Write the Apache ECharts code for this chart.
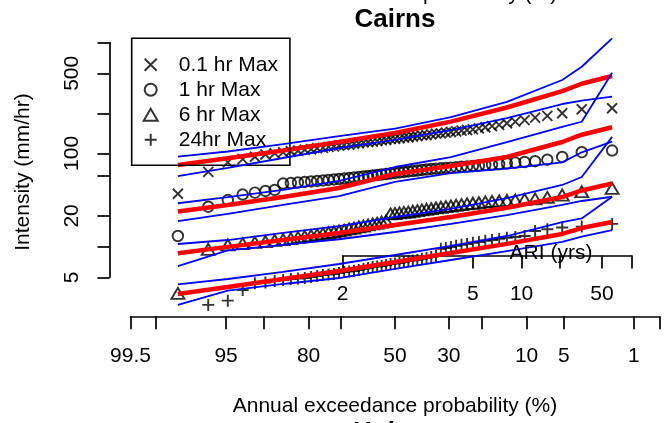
<!DOCTYPE html>
<html><head><meta charset="utf-8">
<script src="https://cdn.jsdelivr.net/npm/echarts@6/dist/echarts.min.js"></script>
<style>html,body{margin:0;padding:0;background:#fff}#c{width:667px;height:423px}</style>
</head><body><div id="c"></div>
<script>
// ---- data (intensities in mm/hr, sorted ascending; plotting position i/(n+1)) ----
const seriesNames = ['0.1 hr Max', '1 hr Max', '6 hr Max', '24hr Max'];
const max01 = [33,54,67,72,76,80,82,84,86,87,89,90,92,93,95,96,98,99,100,102,103,105,106,107,108,110,111,113,114,115,117,118,120,121,123,124,126,128,129,131,133,135,137,139,141,144,148,152,156,162,168,174,184,191,203,222,227];
const max1 = [12.7,24.6,28.6,32.4,33.8,35.1,35.9,41.5,42,42.5,43,43.5,44,44.5,45,45.5,46,46.5,47,47.6,48.1,48.7,49.2,49.8,50.3,50.9,51.5,52.1,52.7,53.3,53.9,54.5,55.1,55.7,56.4,57,57.7,58,58.6,59,59.5,60,60.6,61.2,61.7,62.4,63.1,63.8,64.5,65.6,66.5,67.5,68.7,71.1,75.6,84.2,87.5];
const max6 = [3.48,9.41,10.37,10.7,11,11.2,11.5,11.7,12,12.3,12.6,12.8,13.1,13.4,13.7,13.9,14.2,14.5,14.9,15.2,15.6,15.9,16.3,16.7,17,17.4,17.8,20.9,21.1,21.4,21.6,21.8,22.2,22.5,22.9,23.2,23.5,23.9,24.3,24.6,25,25.4,25.8,26.2,26.6,26.9,27.4,27.7,28,28.3,28.6,29,29.3,30.4,32,34.5,37.3];
const max24 = [null,2.68,2.95,3.75,4.36,4.44,4.6,4.7,4.81,4.86,4.92,5.03,5.15,5.27,5.33,5.39,5.51,5.64,5.7,5.77,5.9,6.04,6.17,6.31,6.38,6.45,6.6,6.75,6.83,6.9,7.07,7.23,7.31,7.39,7.56,7.73,7.9,8.08,9.5,9.7,9.9,10.2,10.4,10.6,10.9,11.1,11.4,11.6,11.9,12.2,12.4,12.7,14.2,14.8,15.4,15.7,16.7];

// fitted curve (red) and confidence limits (blue), at these plotting-position ranks
const lineIdx = [1,3,8,17,29,41,50,55,56,57];
const fit01 = [63.1,73.4,87.5,106,130,168,231,335,395,470];
const up01  = [76.1,85.6,101,121,143.5,186,262,430,580,1101];
const lo01  = [49.2,59,73.9,92.6,111,139,182,250,270,295];
const fit1  = [22.1,25.6,30.6,37.5,51.5,61.7,75.6,106,125,147.8];
const up1   = [26.6,30.6,35.9,44,60.3,75.5,106,149,167.5,507];
const lo1   = [17.8,20.9,25.6,31.3,43,52.6,58,67,84,106.8];
const fit6  = [8.6,9.94,11.6,13.6,16.3,19.5,24,30.6,35.5,41.6];
const up6   = [10.6,11.6,13.6,15.9,19.5,23.4,29.9,40.2,48.1,119];
const lo6   = [6.45,9.2,10.4,11.8,13.9,16.7,20.4,25.6,28,30.8];
const fit24 = [3.43,4.02,4.81,5.77,7.07,8.65,10.64,13.3,15.2,17.4];
const up24  = [4.27,4.81,5.64,6.75,8.27,10.17,12.7,17.4,18.9,30.8];
const lo24  = [2.68,3.7,4.3,4.92,6.04,7.39,9.05,11.1,12.5,14.5];

// axis ticks
const aepTicks  = [99.5,99,95,90,80,70,50,30,20,10,5,1,0.5];
const aepLabels = ['99.5','','95','','80','','50','30','','10','5','1',''];
const yTickValues = [5,10,20,50,82,200,500,1000];
const yTickLabels = ['5','','20','','100','','500',''];
const ariTicks  = [2,5,10,20,50,100];
const ariLabels = ['2','5','10','','50',''];
const ariPos    = [0,0.450,0.619,0.751,0.897,1];

// ---- helpers ----
function qnorm(p){
  const a=[-3.969683028665376e+01,2.209460984245205e+02,-2.759285104469687e+02,1.383577518672690e+02,-3.066479806614716e+01,2.506628277459239e+00];
  const b=[-5.447609879822406e+01,1.615858368580409e+02,-1.556989798598866e+02,6.680131188771972e+01,-1.328068155288572e+01];
  const c=[-7.784894002430293e-03,-3.223964580411365e-01,-2.400758277161838e+00,-2.549732539343734e+00,4.374664141464968e+00,2.938163982698783e+00];
  const d=[7.784695709041462e-03,3.224671290700398e-01,2.445134137142996e+00,3.754408661907416e+00];
  const pl=0.02425, ph=1-pl; let q,r;
  if(p<pl){q=Math.sqrt(-2*Math.log(p));return (((((c[0]*q+c[1])*q+c[2])*q+c[3])*q+c[4])*q+c[5])/((((d[0]*q+d[1])*q+d[2])*q+d[3])*q+1);}
  if(p<=ph){q=p-0.5;r=q*q;return (((((a[0]*r+a[1])*r+a[2])*r+a[3])*r+a[4])*r+a[5])*q/(((((b[0]*r+b[1])*r+b[2])*r+b[3])*r+b[4])*r+1);}
  q=Math.sqrt(-2*Math.log(1-p));return -(((((c[0]*q+c[1])*q+c[2])*q+c[3])*q+c[4])*q+c[5])/((((d[0]*q+d[1])*q+d[2])*q+d[3])*q+1);
}
const N = max01.length;
const zPos = i => qnorm(i/(N+1));
const L10 = v => Math.log10(v);
function pts(arr){ const out=[]; arr.forEach((v,k)=>{ if(v!=null) out.push([zPos(k+1), L10(v)]); }); return out; }
function ln(arr){ return arr.map((v,k)=>[zPos(lineIdx[k]), L10(v)]); }

const FONT = '"Liberation Sans", Arial, Helvetica, sans-serif';
const FS = 21;
const zMin = qnorm(0.005), zMax = qnorm(0.995);
const aepZ = aepTicks.map(a => qnorm(1 - a/100));
const yTickL = yTickValues.map(L10);

const symX = 'path://M0,0L10,10M10,0L0,10';
const symPlus = 'path://M5,0L5,10M0,5L10,5';
const ptStyle = {color:'rgba(0,0,0,0)', borderColor:'#000', borderWidth:1.9};

function scatter(name, arr, symbol, size){
  return {type:'scatter', name, data: pts(arr), symbol, symbolSize:size, itemStyle:ptStyle, clip:false, z:2, silent:true};
}
function line(arr, color, width, z){
  return {type:'line', data: ln(arr), showSymbol:false, symbol:'none', lineStyle:{color, width}, clip:false, z, silent:true, legendHoverLink:false};
}
const nearest = (arr, labels) => v => { let k=0, best=1e9; arr.forEach((t,j)=>{const d=Math.abs(t-v); if(d<best){best=d;k=j;}}); return labels[k]; };

const chart = echarts.init(document.getElementById('c'), null, {renderer:'canvas'});
chart.setOption({
  animation:false,
  backgroundColor:'#fff',
  textStyle:{fontFamily:FONT},
  grid:[
    {left:130.5, width:529, top:42.6, height:234.7},
    {left:342.7, width:289, top:200, height:55.5}
  ],
  xAxis:[
    {type:'value', gridIndex:0, min:zMin, max:zMax, position:'bottom', offset:39,
     axisLine:{show:true, onZero:false, lineStyle:{color:'#000', width:1.7}},
     axisTick:{show:true, length:13, lineStyle:{color:'#000', width:1.7}, customValues:aepZ},
     axisLabel:{show:true, customValues:aepZ, margin:29, fontSize:FS, color:'#000', fontFamily:FONT, formatter:nearest(aepZ, aepLabels)},
     splitLine:{show:false}},
    {type:'value', gridIndex:1, min:0, max:1, position:'bottom',
     axisLine:{show:true, onZero:false, lineStyle:{color:'#000', width:1.7}},
     axisTick:{show:true, length:13, lineStyle:{color:'#000', width:1.7}, customValues:ariPos},
     axisLabel:{show:true, customValues:ariPos, margin:28, fontSize:FS, color:'#000', fontFamily:FONT, formatter:nearest(ariPos, ariLabels)},
     splitLine:{show:false}}
  ],
  yAxis:[
    {type:'value', gridIndex:0, min:L10(5), max:L10(1000), position:'left', offset:21,
     axisLine:{show:true, onZero:false, lineStyle:{color:'#000', width:1.7}},
     axisTick:{show:true, length:12, lineStyle:{color:'#000', width:1.7}, customValues:yTickL},
     axisLabel:{show:true, customValues:yTickL, rotate:90, margin:27, fontSize:FS, color:'#000', fontFamily:FONT, formatter:nearest(yTickL, yTickLabels)},
     splitLine:{show:false}},
    {type:'value', gridIndex:1, show:false, min:0, max:1, axisLine:{onZero:false}}
  ],
  legend:{
    orient:'vertical', left:131.7, top:38.3,
    padding:[14,12,13,11], itemGap:0, itemWidth:14, itemHeight:12,
    borderColor:'#000', borderWidth:1.6,
    textStyle:{fontSize:FS, color:'#000', fontFamily:FONT, lineHeight:25, padding:[0,0,0,16]},
    selectedMode:false,
    data: seriesNames
  },
  series:[
    scatter(seriesNames[0], max01, symX, 10),
    scatter(seriesNames[1], max1, 'circle', 10.5),
    scatter(seriesNames[2], max6, 'triangle', [13,11]),
    scatter(seriesNames[3], max24, symPlus, 12),
    line(fit01,'#ff0000',4.5,3), line(fit1,'#ff0000',4.5,3), line(fit6,'#ff0000',4.5,3), line(fit24,'#ff0000',4.5,3),
    line(up01,'#0000ff',1.8,4), line(lo01,'#0000ff',1.8,4),
    line(up1,'#0000ff',1.8,4), line(lo1,'#0000ff',1.8,4),
    line(up6,'#0000ff',1.8,4), line(lo6,'#0000ff',1.8,4),
    line(up24,'#0000ff',1.8,4), line(lo24,'#0000ff',1.8,4)
  ],
  graphic:[
    {type:'text', x:395, y:20, style:{text:'Cairns', font:'bold 26px '+FONT, fill:'#000', align:'center', verticalAlign:'middle'}},
    {type:'text', x:395, y:-6, style:{text:'Annual exceedance probability (%)', font:FS+'px '+FONT, fill:'#000', align:'center', verticalAlign:'middle'}},
    {type:'text', x:395, y:406, style:{text:'Annual exceedance probability (%)', font:FS+'px '+FONT, fill:'#000', align:'center', verticalAlign:'middle'}},
    {type:'text', x:395, y:433, style:{text:'Hobart', font:'bold 26px '+FONT, fill:'#000', align:'center', verticalAlign:'middle'}},
    {type:'text', x:23, y:172, rotation:Math.PI/2, style:{text:'Intensity (mm/hr)', font:FS+'px '+FONT, fill:'#000', align:'center', verticalAlign:'middle'}},
    {type:'text', x:551, y:253, style:{text:'ARI (yrs)', font:FS+'px '+FONT, fill:'#000', align:'center', verticalAlign:'middle'}, z:10}
  ]
});
</script>
</body></html>
